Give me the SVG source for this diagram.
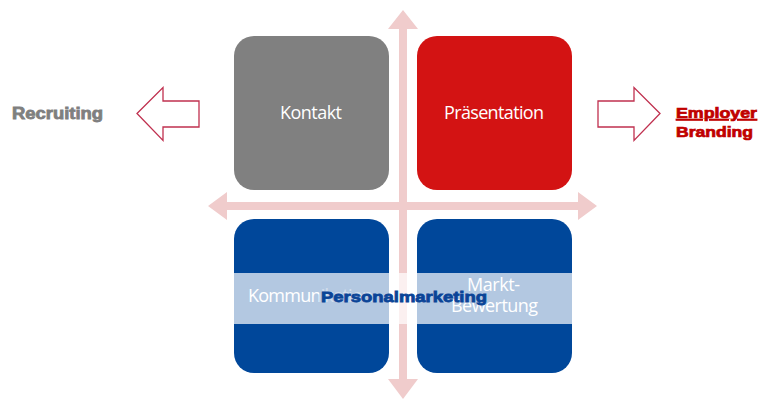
<svg xmlns="http://www.w3.org/2000/svg" width="768" height="412" viewBox="0 0 768 412">
  <defs>
    <style>
      .cross { fill: #F0CCCC; }
      .box { stroke: none; }
      .lbl { font-family: "Open Sans", "Liberation Sans", sans-serif; font-size: 18px; fill: #FFFFFF; }
      .hollow { fill: #FFFFFF; stroke: #C0304F; stroke-width: 1.3; stroke-linejoin: miter; }
      .side { font-family: "Liberation Sans", Arial, sans-serif; font-weight: bold; }
    </style>
    <linearGradient id="kg" gradientUnits="userSpaceOnUse" x1="248" y1="0" x2="373" y2="0">
      <stop offset="0.565" stop-color="#FFFFFF"/>
      <stop offset="0.565" stop-color="#D3DEEC"/>
      <stop offset="1" stop-color="#D3DEEC"/>
    </linearGradient>
  </defs>

  <rect width="768" height="412" fill="#FFFFFF"/>

  <g id="connectors">
    <polygon id="cross-h" class="cross" points="208,206 227,192 227,202 578,202 578,192 597,206 578,220 578,210 227,210 227,220"/>
    <polygon id="cross-v" class="cross" points="403,10 418,29 407,29 407,379 418,379 403,399 388,379 399,379 399,29 388,29"/>
    <polygon id="arrow-left" class="hollow" points="137,113.5 163,87.5 163,101 199,101 199,127 163,127 163,140.5"/>
    <polygon id="arrow-right" class="hollow" points="660,113.5 634,87.5 634,101 598,101 598,127 634,127 634,140.5"/>
  </g>

  <g id="node-kontakt">
    <rect class="box" x="234" y="36" width="155" height="154" rx="20" ry="20" fill="#808080"/>
  </g>
  <g id="node-praesentation">
    <rect class="box" x="417" y="36" width="155" height="154" rx="20" ry="20" fill="#D31313"/>
  </g>
  <g id="node-kommunikation">
    <rect class="box" x="234" y="219" width="155" height="154" rx="20" ry="20" fill="#00479A"/>
  </g>
  <g id="node-markt">
    <rect class="box" x="417" y="219" width="155" height="154" rx="20" ry="20" fill="#00479A"/>
  </g>

  <g id="band">
    <rect x="234" y="273" width="338" height="51" fill="#FFFFFF" fill-opacity="0.7"/>
  </g>

  <g id="labels">
    <text class="lbl" x="280" y="119" textLength="62">Kontakt</text>
    <text class="lbl" x="444" y="119" textLength="100">Präsentation</text>
    <text class="lbl" x="248" y="302" textLength="125" style="fill:url(#kg)">Kommunikation</text>
    <text class="lbl" x="467" y="291" textLength="53">Markt-</text>
    <text class="lbl" x="451" y="312" textLength="87">Bewertung</text>
  </g>

  <g id="node-personalmarketing">
    <text class="side" x="321" y="302" font-size="15.5" fill="#0A4497" stroke="#0A4497" stroke-width="0.8" textLength="166" lengthAdjust="spacingAndGlyphs">Personalmarketing</text>
  </g>

  <g id="node-recruiting">
    <text class="side" x="12" y="119" font-size="16" fill="#7F7F7F" stroke="#7F7F7F" stroke-width="0.8" textLength="91" lengthAdjust="spacingAndGlyphs">Recruiting</text>
  </g>

  <g id="node-employer-branding">
    <text class="side" x="676" y="118" font-size="14" fill="#C00000" stroke="#C00000" stroke-width="0.7" textLength="81" lengthAdjust="spacingAndGlyphs" text-decoration="underline">Employer</text>
    <text class="side" x="676" y="137" font-size="14" fill="#C00000" stroke="#C00000" stroke-width="0.7" textLength="77" lengthAdjust="spacingAndGlyphs">Branding</text>
  </g>
</svg>
